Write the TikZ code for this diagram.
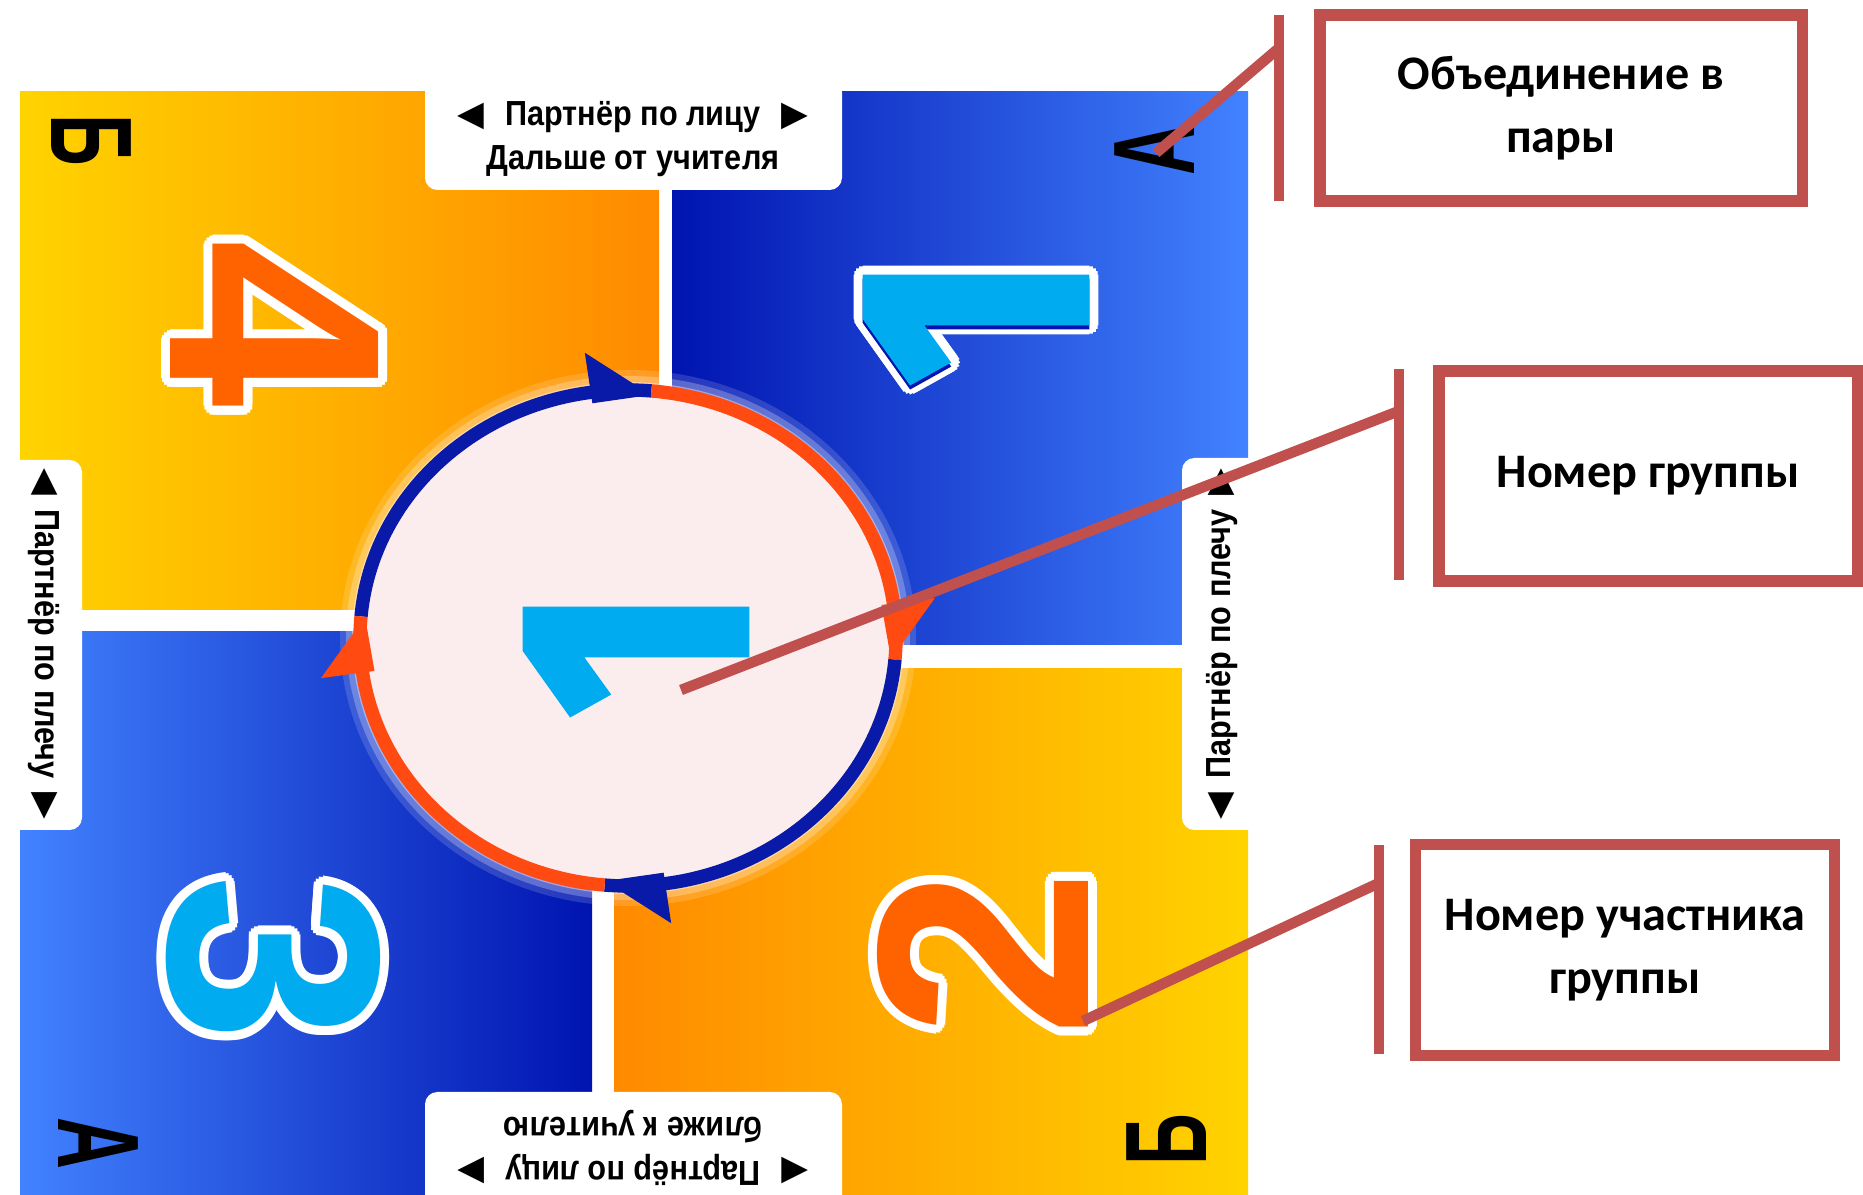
\documentclass[tikz,border=0pt]{standalone}
\usepackage{fontspec}
\usepackage{xcolor}
\usepackage{tikz}
\usetikzlibrary{calc}
\usetikzlibrary{positioning}

\newfontfamily\boxfont{Carlito}
\newfontfamily\tabfont{Liberation Sans}[FakeStretch=0.88]
\newfontfamily\letterfont{Liberation Sans}[FakeStretch=0.62]
\newfontfamily\digitfont{Liberation Sans}
\newfontfamily\onefont{Fira Sans}[FakeStretch=0.85,FakeBold=2.5]
\newfontfamily\symfont{DejaVu Sans}

\definecolor{calloutred}{HTML}{C0504D}
\definecolor{sunyellow}{HTML}{FFD300}
\definecolor{deeporange}{HTML}{FF8A00}
\definecolor{navyblue}{HTML}{0014B0}
\definecolor{skyblue}{HTML}{4282FF}
\definecolor{digitorange}{HTML}{FF6300}
\definecolor{digitblue}{HTML}{00ABF0}
\definecolor{ringblue}{HTML}{0A1AA8}
\definecolor{ringorange}{HTML}{FF4A12}
\definecolor{discpink}{HTML}{FBEDED}

\tikzset{
	callout/.style={line width=3pt,calloutred},
	calloutbox/.style={draw=calloutred,line width=3.2pt,fill=white,align=center,inner sep=0pt,
		font=\boxfont\bfseries\fontsize{13.7}{18}\selectfont},
	tab/.style={fill=white,rounded corners=3.5pt},
	tabtext/.style={align=center,inner sep=0pt,font=\tabfont\bfseries\fontsize{9.9}{12.5}\selectfont},
	cornerletter/.style={inner sep=0pt,font=\letterfont\bfseries\fontsize{33}{33}\selectfont},
	digit/.style={inner sep=0pt,font=\digitfont\bfseries\fontsize{86}{86}\selectfont},
	onedigit/.style={inner sep=0pt,font=\onefont\bfseries\fontsize{92}{92}\selectfont},
	halo/.style={text=white}
}

\begin{document}
\begin{tikzpicture}[x=0.01cm,y=-0.01cm]
	\useasboundingbox (0,0) rectangle (1863,1195);
	
	%quadrants
	\shade[left color=sunyellow,right color=deeporange] (20,92) rectangle (659,610);
	\shade[left color=navyblue,right color=skyblue] (672,92) rectangle (1248,645);
	\shade[left color=deeporange,right color=sunyellow] (614,669) rectangle (1248,1195);
	\shade[left color=skyblue,right color=navyblue] (20,632) rectangle (592,1195);
	
	%tabs
	\fill[tab] (425,80) rectangle (842,190);
	\fill[tab] (425,1092) rectangle (842,1210);
	\fill[tab] (6,460) rectangle (82,830);
	\fill[tab] (1182,458) rectangle (1262,830);
	
	\node[tabtext] (tabTop) at (633,139) {{\symfont ◀}\hspace{0.6em}Партнёр по лицу\hspace{0.6em}{\symfont ▶}\\Дальше от учителя};
	\node[tabtext,rotate=180] (tabBottom) at (633,1148) {{\symfont ◀}\hspace{0.6em}Партнёр по лицу\hspace{0.6em}{\symfont ▶}\\ближе к учителю};
	\node[tabtext,rotate=-90] (tabLeft) at (44,644) {{\symfont ◀}\hspace{0.4em}Партнёр по плечу\hspace{0.4em}{\symfont ▶}};
	\node[tabtext,rotate=90] (tabRight) at (1222,644) {{\symfont ◀}\hspace{0.4em}Партнёр по плечу\hspace{0.4em}{\symfont ▶}};
	
	%corner letters
	\node[cornerletter,rotate=-90] (letterTL) at (91,140) {Б};
	\node[cornerletter,rotate=90] (letterTR) at (1155,150) {А};
	\node[cornerletter,rotate=-90] (letterBL) at (98,1143) {А};
	\node[cornerletter,rotate=90] (letterBR) at (1167,1140) {Б};
	
	%member numbers
	\foreach \a in {0,22.5,...,337.5} {
		\node[digit,halo,rotate=-90,shift={(\a:9)}] at (275,324) {4};
		\node[onedigit,halo,rotate=90,shift={(\a:9)}] at (976,320) {1};
		\node[digit,halo,rotate=-90,shift={(\a:9)}] at (273,959) {3};
		\node[digit,halo,rotate=90,shift={(\a:9)}] at (983,953) {2};
	}
	\node[digit,text=digitorange,rotate=-90] (digitFour) at (275,324) {4};
	\node[onedigit,text=navyblue,rotate=90] (digitOneShadow) at (976,324) {1};
	\node[onedigit,text=digitblue,rotate=90] (digitOne) at (976,320) {1};
	\node[digit,text=digitblue,rotate=-90] (digitThree) at (273,959) {3};
	\node[digit,text=digitorange,rotate=90] (digitTwo) at (983,953) {2};
	
	%group disc
	\coordinate (disc) at (628,638);
	\foreach \g/\o in {20/0.15,14/0.25,8/0.4} {
		\fill[white,opacity=\o] (disc) ellipse [x radius=268+\g,y radius=248+\g];
	}
	\fill[discpink] (disc) ellipse [x radius=268,y radius=248];
	\foreach \s/\e/\col in {-175/-85/ringblue,-85/5/ringorange,5/95/ringblue,95/185/ringorange} {
		\draw[\col,line width=3.8pt] ([shift={(\s:268 and 248)}]disc) arc[start angle=\s,end angle=\e,x radius=268,y radius=248];
		\fill[\col] ([shift={(\e:264 and 244)}]disc) -- ([shift={({\e-13}:310 and 288)}]disc) -- ([shift={({\e-13}:256 and 237)}]disc) -- cycle;
	}
	\node[onedigit,text=digitblue,rotate=90] (digitGroup) at (636,652) {1};
	
	%callouts
	\node[calloutbox,minimum width=4.82cm,minimum height=1.86cm] (boxPairs) at (1561,108) {Объединение в\\пары};
	\node[calloutbox,minimum width=4.18cm,minimum height=2.10cm] (boxGroup) at (1648,476) {Номер группы};
	\node[calloutbox,minimum width=4.19cm,minimum height=2.11cm] (boxMember) at (1625,950) {Номер участника\\группы};
	
	\coordinate (pairsTop) at (1279,15);
	\coordinate (pairsBottom) at (1279,201);
	\coordinate (pairsKnee) at (1279,48);
	\coordinate (pairsTip) at (1156,153);
	\draw[callout] (pairsTop) -- (pairsBottom);
	\draw[callout] (pairsKnee) -- (pairsTip);
	
	\coordinate (groupTop) at (1399,369);
	\coordinate (groupBottom) at (1399,580);
	\coordinate (groupKnee) at (1399,411);
	\coordinate (groupTip) at (681,690);
	\draw[callout] (groupTop) -- (groupBottom);
	\draw[callout] (groupKnee) -- (groupTip);
	
	\coordinate (memberTop) at (1379,845);
	\coordinate (memberBottom) at (1379,1054);
	\coordinate (memberKnee) at (1379,883);
	\coordinate (memberTip) at (1083,1021);
	\draw[callout] (memberTop) -- (memberBottom);
	\draw[callout] (memberKnee) -- (memberTip);
	
\end{tikzpicture}
\end{document}
